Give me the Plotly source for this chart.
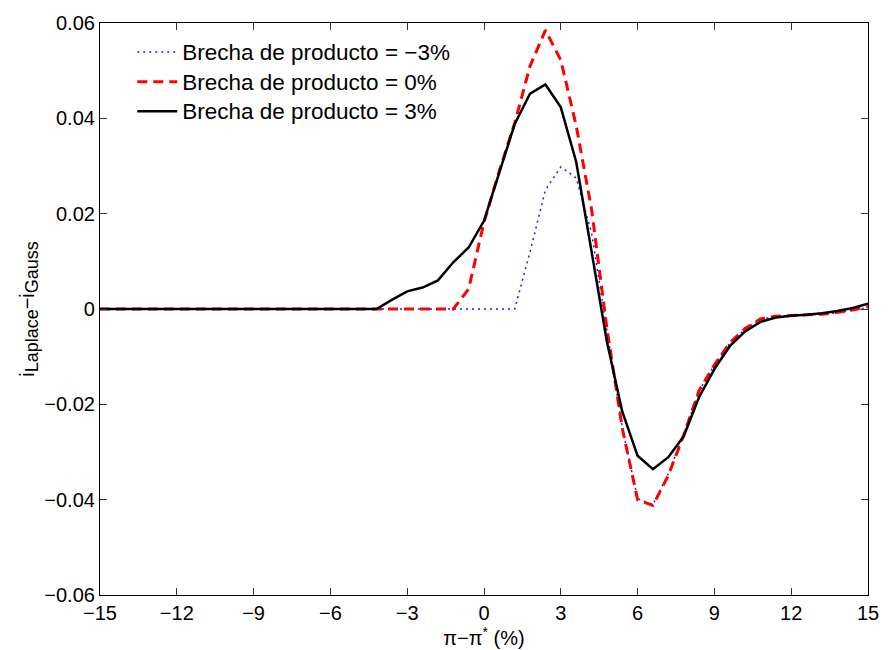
import plotly.graph_objects as go

# x grid: -15 to 15 step 0.6
x = [round(-15 + 0.6 * k, 1) for k in range(51)]

# values from the right end backwards (earlier points are zero)
gap_neg3_tail = [0, 0, 0, 0, 0, 0, 0, 0, 0, 0,
                 0.012, 0.025, 0.0298, 0.0275, 0.016, -0.004, -0.0248, -0.0398, -0.0410, -0.0346,
                 -0.0263, -0.0172, -0.0117, -0.0072, -0.0042, -0.0022, -0.0015, -0.0014, -0.0013, -0.0011,
                 -0.0008, -0.0003, 0.0003]
gap_0_tail = [0, 0, 0, 0, 0, 0.0042, 0.0182, 0.029, 0.039, 0.051,
              0.0585, 0.0522, 0.0385, 0.021, -0.004, -0.025, -0.0400, -0.0412, -0.0349, -0.0265,
              -0.0171, -0.0117, -0.0071, -0.0041, -0.0021, -0.0015, -0.0014, -0.0013, -0.0011, -0.0007,
              -0.0002, 0.0005]
gap_3_tail = [0, 0.0019, 0.0037, 0.0045, 0.006, 0.0098, 0.0129, 0.0185, 0.0287, 0.0388,
              0.0452, 0.0471, 0.0423, 0.0309, 0.0121, -0.0068, -0.0215, -0.0308, -0.0336, -0.0311,
              -0.0267, -0.0185, -0.0126, -0.0078, -0.0047, -0.0027, -0.0018, -0.0014, -0.0012, -0.0009,
              -0.0004, 0.0002, 0.0011]

def full(tail):
    return [0.0] * (51 - len(tail)) + tail

y_neg3 = full(gap_neg3_tail)
y_0 = full(gap_0_tail)
y_3 = full(gap_3_tail)

names = ["Brecha de producto = \u22123%", "Brecha de producto = 0%", "Brecha de producto = 3%"]

xticks = [-15, -12, -9, -6, -3, 0, 3, 6, 9, 12, 15]
yticks = [-0.06, -0.04, -0.02, 0, 0.02, 0.04, 0.06]

xticktext = [("\u2212%d" % abs(v)) if v < 0 else str(v) for v in xticks]
yticktext = ["0" if v == 0 else (("\u2212" if v < 0 else "") + "%.2f" % abs(v)) for v in yticks]

FAM = "Liberation Sans, Arial, sans-serif"

def big(s):
    return "<span style='font-size:22.5px'>" + s + "</span>"

fig = go.Figure()
fig.add_trace(go.Scatter(x=x, y=y_neg3, mode="lines", name=big(names[0]),
                         line=dict(color="#1a1aff", width=1.5, dash="2px,4px")))
fig.add_trace(go.Scatter(x=x, y=y_0, mode="lines", name=big(names[1]),
                         line=dict(color="#ff0000", width=3, dash="10px,6px")))
fig.add_trace(go.Scatter(x=x, y=y_3, mode="lines", name=big(names[2]),
                         line=dict(color="#000000", width=2.5)))

font = dict(family=FAM, size=20, color="black")
axis_common = dict(showgrid=False, zeroline=False, showline=True, linecolor="black",
                   linewidth=1.2, mirror="ticks", ticks="inside", ticklen=7,
                   tickcolor="#333", tickwidth=1, tickfont=font)

fig.update_layout(
    width=891, height=650,
    margin=dict(l=100, r=12, t=14, b=51),
    paper_bgcolor="white", plot_bgcolor="white",
    font=font,
    showlegend=True,
    legend=dict(x=0.042, y=0.984, xanchor="left", yanchor="top",
                bgcolor="rgba(255,255,255,0)", font=dict(family=FAM, size=20.5, color="black"),
                itemwidth=40, tracegroupgap=0),
    xaxis=dict(range=[-15, 15], tickvals=xticks, ticktext=xticktext,
               title=dict(text="\u03c0\u2212\u03c0<sup>*</sup> (%)", font=dict(family=FAM, size=20), standoff=0),
               **axis_common),
    yaxis=dict(range=[-0.06, 0.06], tickvals=yticks, ticktext=yticktext,
               title=dict(text="i<sub><span style='font-size:18px'>Laplace</span></sub>\u2212i<sub><span style='font-size:18px'>Gauss</span></sub>",
                          font=dict(family=FAM, size=20), standoff=4),
               **axis_common),
)

fig.write_html("out.html")
